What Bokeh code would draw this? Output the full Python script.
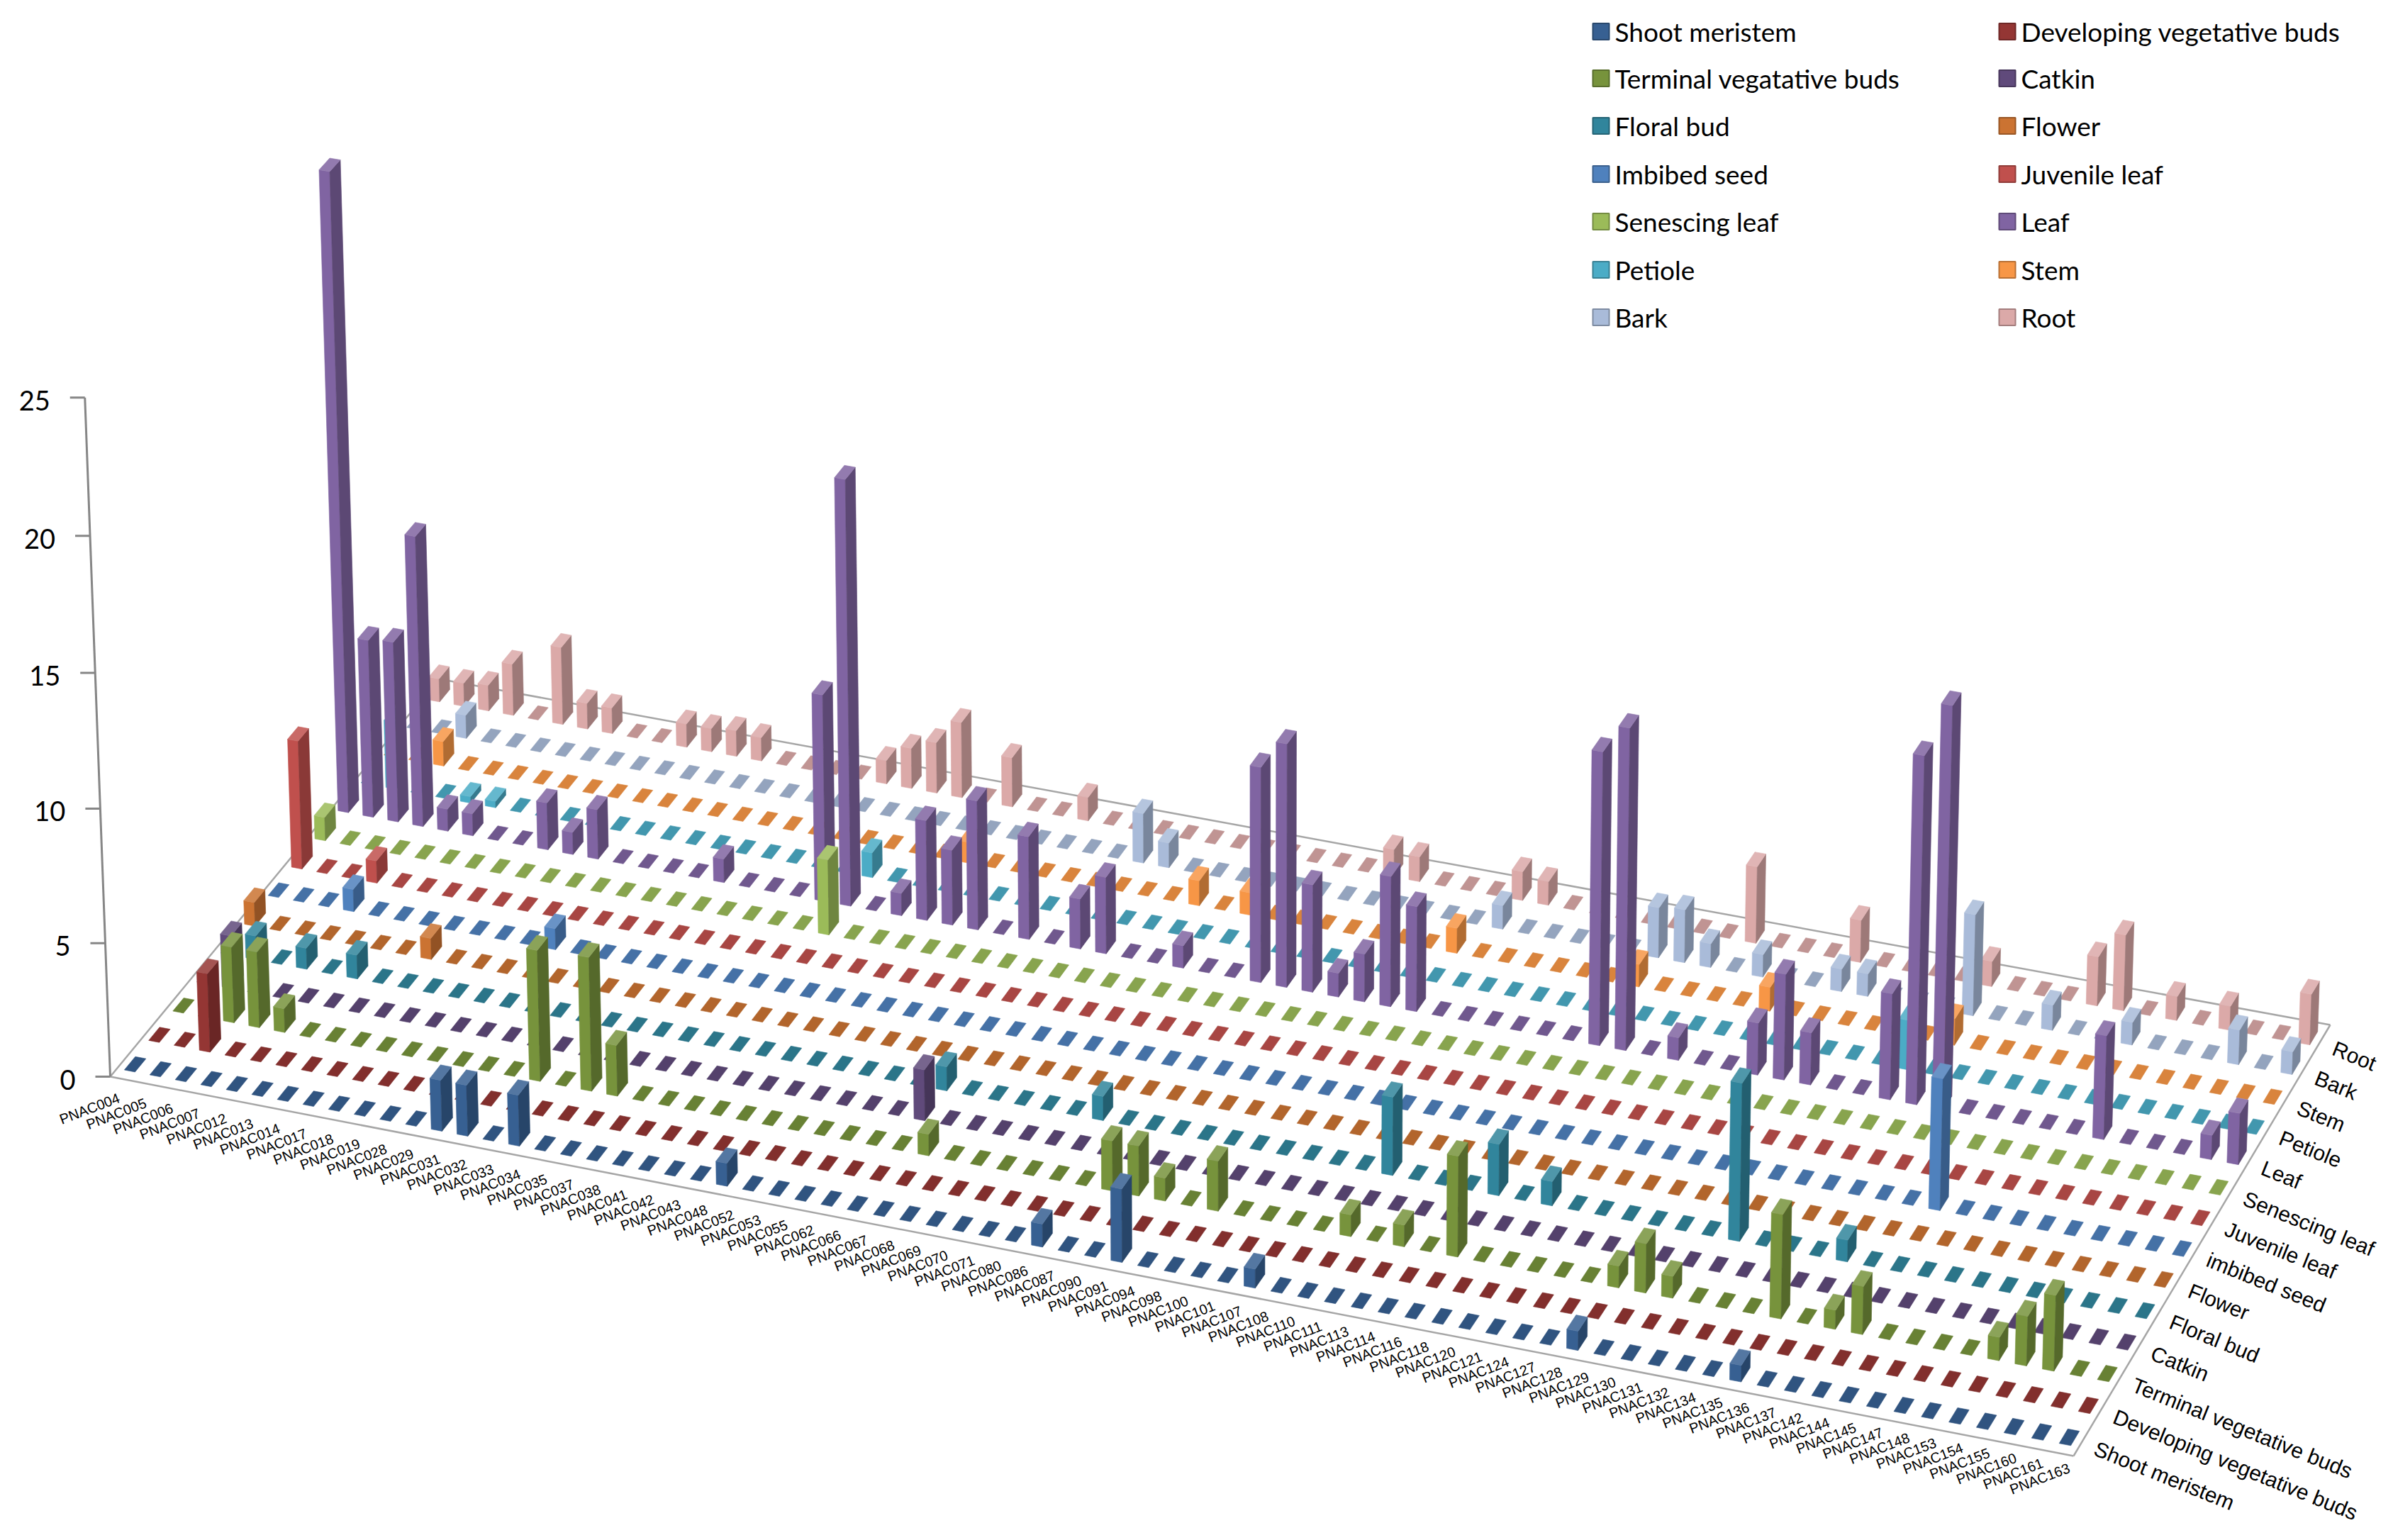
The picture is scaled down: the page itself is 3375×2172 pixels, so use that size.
import numpy as np
from bokeh.plotting import figure
from bokeh.models import Range1d, ColumnDataSource
from bokeh.core.properties import value
from bokeh.embed import file_html
from bokeh.resources import INLINE

genes = ["PNAC004", "PNAC005", "PNAC006", "PNAC007", "PNAC012", "PNAC013", "PNAC014", "PNAC017",
         "PNAC018", "PNAC019", "PNAC028", "PNAC029", "PNAC031", "PNAC032", "PNAC033", "PNAC034",
         "PNAC035", "PNAC037", "PNAC038", "PNAC041", "PNAC042", "PNAC043", "PNAC048", "PNAC052",
         "PNAC053", "PNAC055", "PNAC062", "PNAC066", "PNAC067", "PNAC068", "PNAC069", "PNAC070",
         "PNAC071", "PNAC080", "PNAC086", "PNAC087", "PNAC090", "PNAC091", "PNAC094", "PNAC098",
         "PNAC100", "PNAC101", "PNAC107", "PNAC108", "PNAC110", "PNAC111", "PNAC113", "PNAC114",
         "PNAC116", "PNAC118", "PNAC120", "PNAC121", "PNAC124", "PNAC127", "PNAC128", "PNAC129",
         "PNAC130", "PNAC131", "PNAC132", "PNAC134", "PNAC135", "PNAC136", "PNAC137", "PNAC142",
         "PNAC144", "PNAC145", "PNAC147", "PNAC148", "PNAC153", "PNAC154", "PNAC155", "PNAC160",
         "PNAC161", "PNAC163"]

# depth axis, front row first
tissues = ["Shoot meristem", "Developing vegetative buds", "Terminal vegetative buds", "Catkin",
           "Floral bud", "Flower", "imbibed seed", "Juvenile leaf", "Senescing leaf", "Leaf",
           "Petiole", "Stem", "Bark", "Root"]
legend_labels = ["Shoot meristem", "Developing vegetative buds", "Terminal vegatative buds", "Catkin",
                 "Floral bud", "Flower", "Imbibed seed", "Juvenile leaf", "Senescing leaf", "Leaf",
                 "Petiole", "Stem", "Bark", "Root"]
colors = ["#376092", "#943634", "#77933C", "#604A7B", "#31859C", "#CB7332", "#4F81BD",
          "#C0504D", "#9BBB59", "#8064A2", "#4BACC6", "#F79646", "#A9BBD9", "#DBA9A8"]

# expression values (genes not listed are 0)
shoot_meristem = {"PNAC031": 1.9, "PNAC032": 1.9, "PNAC034": 1.9, "PNAC052": 0.85, "PNAC087": 0.85,
                  "PNAC094": 2.7, "PNAC108": 0.7, "PNAC129": 0.7, "PNAC136": 0.6}
developing_buds = {"PNAC006": 2.95}
terminal_buds = {"PNAC006": 2.85, "PNAC007": 2.85, "PNAC012": 0.9, "PNAC033": 4.9, "PNAC035": 5.0,
                 "PNAC037": 1.9, "PNAC068": 0.8, "PNAC090": 1.85, "PNAC091": 1.85, "PNAC094": 0.85,
                 "PNAC100": 1.85, "PNAC111": 0.8, "PNAC114": 0.8, "PNAC118": 3.7, "PNAC129": 0.8,
                 "PNAC130": 1.8, "PNAC131": 0.8, "PNAC136": 3.8, "PNAC142": 0.7, "PNAC144": 1.75,
                 "PNAC154": 0.85, "PNAC155": 1.8, "PNAC160": 2.75}
catkin = {"PNAC005": 2.0, "PNAC067": 1.9}
floral_bud = {"PNAC005": 0.9, "PNAC007": 0.8, "PNAC013": 0.9, "PNAC067": 0.9, "PNAC086": 0.9,
              "PNAC111": 2.9, "PNAC118": 1.9, "PNAC121": 0.9, "PNAC132": 5.8, "PNAC137": 0.8}
flower = {"PNAC004": 0.9, "PNAC017": 0.8}
imbibed_seed = {"PNAC007": 0.85, "PNAC029": 0.8, "PNAC144": 4.85}
juvenile_leaf = {"PNAC004": 4.9, "PNAC007": 0.85}
senescing_leaf = {"PNAC004": 0.9, "PNAC042": 2.85}
leaf = {"PNAC004": 24.3, "PNAC005": 6.8, "PNAC006": 6.9, "PNAC007": 11.1, "PNAC012": 0.85,
        "PNAC013": 0.85, "PNAC018": 1.8, "PNAC019": 0.85, "PNAC028": 1.9, "PNAC034": 0.9,
        "PNAC041": 7.85, "PNAC042": 16.1, "PNAC048": 0.85, "PNAC052": 3.8, "PNAC053": 2.85,
        "PNAC055": 4.9, "PNAC066": 3.9, "PNAC068": 1.9, "PNAC069": 2.9, "PNAC080": 0.85,
        "PNAC090": 8.1, "PNAC091": 9.15, "PNAC094": 4.05, "PNAC098": 0.9, "PNAC100": 1.8,
        "PNAC101": 4.9, "PNAC107": 3.95, "PNAC118": 10.95, "PNAC120": 12.0, "PNAC124": 0.85,
        "PNAC129": 1.95, "PNAC130": 3.95, "PNAC131": 1.95, "PNAC135": 3.95, "PNAC136": 12.9,
        "PNAC137": 14.9, "PNAC153": 3.85, "PNAC161": 0.9, "PNAC163": 1.9}
petiole = {"PNAC005": 2.6, "PNAC012": 0.25, "PNAC013": 0.25, "PNAC042": 0.95, "PNAC135": 1.85}
stem = {"PNAC006": 0.95, "PNAC052": 0.8, "PNAC071": 0.95, "PNAC086": 0.85, "PNAC107": 0.95,
        "PNAC118": 0.85, "PNAC128": 0.9, "PNAC136": 1.0}
bark = {"PNAC006": 0.9, "PNAC068": 1.9, "PNAC069": 0.95, "PNAC108": 0.9, "PNAC118": 1.9,
        "PNAC120": 2.0, "PNAC121": 0.9, "PNAC127": 0.85, "PNAC130": 0.85, "PNAC131": 0.85,
        "PNAC136": 3.8, "PNAC144": 0.95, "PNAC148": 0.85, "PNAC160": 1.3, "PNAC163": 0.85}
root = {"PNAC004": 0.9, "PNAC005": 0.9, "PNAC006": 1.0, "PNAC007": 2.0, "PNAC013": 3.0,
        "PNAC014": 1.0, "PNAC017": 1.0, "PNAC028": 0.9, "PNAC029": 0.9, "PNAC031": 1.0,
        "PNAC032": 0.9, "PNAC038": 0.9, "PNAC041": 1.55, "PNAC042": 1.95, "PNAC043": 2.9,
        "PNAC052": 1.9, "PNAC062": 0.9, "PNAC094": 1.05, "PNAC098": 0.95, "PNAC108": 1.1,
        "PNAC110": 0.9, "PNAC124": 2.9, "PNAC130": 1.6, "PNAC136": 0.95, "PNAC145": 1.85,
        "PNAC147": 2.85, "PNAC153": 0.9, "PNAC155": 0.9, "PNAC163": 1.9}

series = [shoot_meristem, developing_buds, terminal_buds, catkin, floral_bud, flower, imbibed_seed,
          juvenile_leaf, senescing_leaf, leaf, petiole, stem, bark, root]
y_ticks = [0, 5, 10, 15, 20, 25]

W, H = 3359, 2156
p = figure(width=W, height=H, x_range=Range1d(1, 1 + W), y_range=Range1d(1 + H, 1),
           output_backend="svg", toolbar_location=None, min_border=0)
p.axis.visible = False
p.grid.visible = False
p.outline_line_color = None
p.background_fill_color = "white"

# screen corners of the floor: front-left, front-right, back-right, back-left
FL, FR, BR, BL = (156, 1519), (2925, 2054), (3287, 1446), (619, 958)


def homography(dst):
    src = [(0, 0), (1, 0), (1, 1), (0, 1)]
    A, b = [], []
    for (u, v), (x, y) in zip(src, dst):
        A.append([u, v, 1, 0, 0, 0, -u * x, -v * x]); b.append(x)
        A.append([0, 0, 0, u, v, 1, -u * y, -v * y]); b.append(y)
    h = np.linalg.solve(np.array(A, float), np.array(b, float))
    return np.append(h, 1.0).reshape(3, 3)


HM = homography([FL, FR, BR, BL])
S0 = 37.5             # px per unit at the front-left corner
VX, VY = 1760, 44470  # vanishing point of the verticals


def project(u, v, h=0.0):
    X, Y, Wt = HM @ np.array([u, v, 1.0])
    x, y = X / Wt, Y / Wt
    if h == 0:
        return x, y
    s = S0 / Wt
    dx, dy = x - VX, y - VY
    c = np.hypot(dx, dy) / s
    f = c / (c - h)
    return VX + dx * f, VY + dy * f


def shade(hx, f):
    r, g, b = (int(hx[k:k + 2], 16) for k in (1, 3, 5))
    if f < 1:
        r, g, b = r * f, g * f, b * f
    else:
        t = f - 1
        r, g, b = r + (255 - r) * t, g + (255 - g) * t, b + (255 - b) * t
    return "#%02x%02x%02x" % (int(r), int(g), int(b))


NG, NS = len(genes), len(tissues)

# floor frame and value axis
edge = dict(line_color="#A6A6A6", line_width=2.5)
for a, b in [(FL, FR), (FR, BR), (BL, BR), (FL, BL)]:
    p.line([a[0], b[0]], [a[1], b[1]], **edge)

ax0 = project(0, 0, 0)
ax1 = project(0, 0, y_ticks[-1])
p.line([ax0[0], ax1[0]], [ax0[1], ax1[1]], line_color="#868686", line_width=3)
tx, ty, tl = [], [], []
for t in y_ticks:
    px, py = project(0, 0, t)
    p.line([px - 21, px], [py, py], line_color="#868686", line_width=3)
    tx.append(px - 49); ty.append(py + 4); tl.append(str(t))
p.text(tx, ty, text=tl, text_font=value("Lato"), text_font_size="38px",
       text_align="right", text_baseline="middle", text_color="#000000")

# bars, drawn back to front
BW, BD = 0.42, 0.45
xs, ys, fills = [], [], []


def add(pts, col):
    xs.append([q[0] for q in pts]); ys.append([q[1] for q in pts]); fills.append(col)


for j in range(NS - 1, -1, -1):
    vals, base = series[j], colors[j]
    for i, g in enumerate(genes):
        h = vals.get(g, 0.0)
        u0, u1 = (i + 0.5 - BW / 2) / NG, (i + 0.5 + BW / 2) / NG
        v0, v1 = (j + 0.5 - BD / 2) / NS, (j + 0.5 + BD / 2) / NS
        corners = [(u0, v0), (u1, v0), (u1, v1), (u0, v1)]
        bot = [project(u, v) for u, v in corners]
        if h <= 0:
            add(bot, shade(base, 0.88))
            continue
        top = [project(u, v, h) for u, v in corners]
        add([bot[0], bot[1], top[1], top[0]], base)
        add([bot[1], bot[2], top[2], top[1]], shade(base, 0.72))
        add(top, shade(base, 1.15))

src = ColumnDataSource(dict(xs=xs, ys=ys, fill=fills))
p.patches("xs", "ys", source=src, fill_color="fill", line_color="fill", line_width=0.6)

# gene labels: evenly spaced between the first and last tick below the front edge
fx0, fy0 = project(0.5 / NG, 0)
fx1, fy1 = project((NG - 0.5) / NG, 0)
ax_, ay_ = fx0 - 5.6, fy0 + 25.7
bx_, by_ = fx1 + 13.4, fy1 + 19.9
gx = [ax_ + (bx_ - ax_) * i / (NG - 1) for i in range(NG)]
gy = [ay_ + (by_ - ay_) * i / (NG - 1) for i in range(NG)]
p.text(gx, gy, text=genes, angle=np.radians(21), text_font=value("Liberation Sans"),
       text_font_size="20px", text_align="right", text_baseline="middle", text_color="#000000")

# tissue labels along the right edge
dx_, dy_ = [], []
for j in range(NS):
    px, py = project(1, (j + 0.5) / NS)
    dx_.append(px + 17); dy_.append(py + 11)
p.text(dx_, dy_, text=tissues, angle=np.radians(-22), text_font=value("Liberation Sans"),
       text_font_size="30px", text_align="left", text_baseline="middle", text_color="#000000")

# legend, two columns
col_x = [2247, 2820]
row_y = [45, 111, 178, 246, 313, 381, 448]
for k, (lab, c) in enumerate(zip(legend_labels, colors)):
    cx, cy = col_x[k % 2], row_y[k // 2]
    p.quad(left=cx, right=cx + 23, top=cy - 11.5, bottom=cy + 11.5, fill_color=c,
           line_color=shade(c, 0.75), line_width=2)
    p.text([cx + 31], [cy], text=[lab], text_font=value("Lato"), text_font_size="37px",
           text_align="left", text_baseline="middle", text_color="#000000")

open("out.html", "w").write(file_html(p, INLINE))
